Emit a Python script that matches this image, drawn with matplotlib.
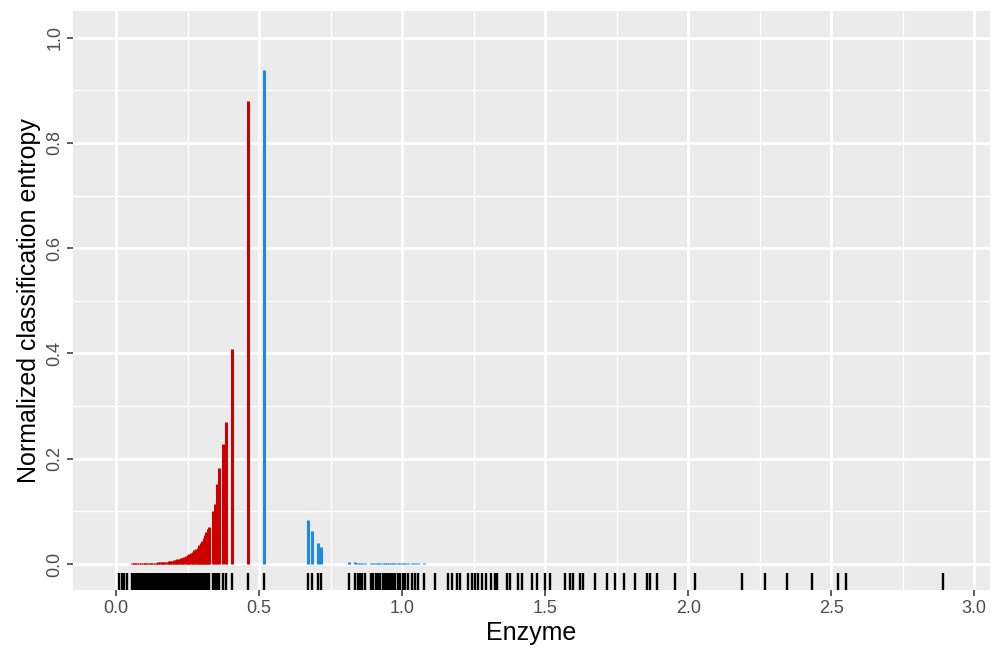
import matplotlib
matplotlib.use("Agg")
import matplotlib.pyplot as plt

plt.rcParams['font.family'] = ['Liberation Sans', 'DejaVu Sans']

# classification entropy per enzyme position (red group)
red_x = [0.012, 0.020, 0.028, 0.037, 0.055, 0.062, 0.068, 0.075, 0.081, 0.088,
         0.094, 0.100, 0.106, 0.112, 0.118, 0.124, 0.130, 0.136, 0.142, 0.148,
         0.154, 0.160, 0.166, 0.172, 0.178, 0.184, 0.190, 0.196, 0.202, 0.208,
         0.214, 0.220, 0.226, 0.232, 0.238, 0.244, 0.250, 0.256, 0.262, 0.268,
         0.274, 0.280, 0.286, 0.291, 0.296, 0.301, 0.306, 0.311, 0.316, 0.321,
         0.326, 0.338, 0.346, 0.354, 0.361, 0.375, 0.385, 0.407, 0.463]
red_h = [0.0008, 0.0008, 0.0009, 0.0009, 0.0010, 0.0010, 0.0011, 0.0011, 0.0012, 0.0013,
         0.0014, 0.0015, 0.0016, 0.0018, 0.0019, 0.0021, 0.0023, 0.0025, 0.0027, 0.0030,
         0.0033, 0.0036, 0.0039, 0.0043, 0.0047, 0.0052, 0.0057, 0.0063, 0.0070, 0.0078,
         0.0086, 0.0095, 0.0105, 0.012, 0.013, 0.015, 0.017, 0.019, 0.021, 0.023,
         0.026, 0.029, 0.031, 0.036, 0.040, 0.044, 0.050, 0.055, 0.061, 0.066,
         0.070, 0.101, 0.114, 0.152, 0.182, 0.228, 0.269, 0.409, 0.880]

# blue group
blue_x = [0.517, 0.672, 0.686, 0.707, 0.717, 0.816, 0.836, 0.846, 0.853, 0.861,
          0.870, 0.892, 0.900, 0.908, 0.916, 0.924, 0.932, 0.940, 0.947, 0.953,
          0.960, 0.967, 0.976, 0.986, 0.993, 1.003, 1.010, 1.021, 1.034, 1.045,
          1.054, 1.075]
blue_h = [0.939, 0.084, 0.063, 0.039, 0.033, 0.004, 0.003, 0.002, 0.002, 0.002,
          0.002, 0.0015, 0.0015, 0.0015, 0.0015, 0.0015, 0.0015, 0.0015, 0.001, 0.001,
          0.001, 0.001, 0.001, 0.001, 0.001, 0.001, 0.001, 0.001, 0.001, 0.001,
          0.001, 0.001]

# remaining enzyme positions (entropy ~ 0, only rug)
other_x = [1.115, 1.161, 1.175, 1.192, 1.203, 1.231, 1.245, 1.255, 1.266, 1.280,
           1.294, 1.311, 1.325, 1.332, 1.367, 1.378, 1.406, 1.420, 1.455, 1.472,
           1.500, 1.517, 1.570, 1.587, 1.598, 1.622, 1.633, 1.675, 1.716, 1.745,
           1.774, 1.815, 1.856, 1.867, 1.891, 1.955, 2.024, 2.189, 2.269, 2.346,
           2.434, 2.524, 2.552, 2.892]

fig = plt.figure(figsize=(9.97, 6.64), dpi=100)
ax = fig.add_axes([0.0733, 0.111, 0.9197, 0.872])
ax.set_facecolor('#EBEBEB')

ax.set_xlim(-0.150, 3.055)
ax.set_ylim(-0.05, 1.05)

# grid
for v in [0.25, 0.75, 1.25, 1.75, 2.25, 2.75]:
    ax.axvline(v, color='white', lw=1.0, zorder=0.5)
for v in [0.1, 0.3, 0.5, 0.7, 0.9]:
    ax.axhline(v, color='white', lw=1.0, zorder=0.5)
for v in [0.0, 0.5, 1.0, 1.5, 2.0, 2.5, 3.0]:
    ax.axvline(v, color='white', lw=2.0, zorder=0.6)
for v in [0.0, 0.2, 0.4, 0.6, 0.8, 1.0]:
    ax.axhline(v, color='white', lw=2.0, zorder=0.6)

ax.vlines(red_x, 0, red_h, color='#CD0000', lw=2.2, zorder=2)
ax.vlines(blue_x, 0, blue_h, color='#1E88E5', lw=2.2, zorder=2)

rug_x = red_x + blue_x + other_x
ax.vlines(rug_x, 0, 0.03, color='black', lw=1.7, transform=ax.get_xaxis_transform(), zorder=3)

for s in ax.spines.values():
    s.set_visible(False)

ax.set_xticks([0.0, 0.5, 1.0, 1.5, 2.0, 2.5, 3.0])
ax.set_xticklabels(['0.0', '0.5', '1.0', '1.5', '2.0', '2.5', '3.0'])
ax.set_yticks([0.0, 0.2, 0.4, 0.6, 0.8, 1.0])
ax.set_yticklabels(['0.0', '0.2', '0.4', '0.6', '0.8', '1.0'], rotation=90, va='center')
ax.tick_params(axis='both', colors='#333333', length=4, width=1.1, labelcolor='#4D4D4D',
               labelsize=13, pad=3)

ax.set_xlabel('Enzyme', fontsize=18, color='black', labelpad=3)
ax.set_ylabel('Normalized classification entropy', fontsize=18, color='black', labelpad=4)

fig.savefig('out.png', dpi=100)
